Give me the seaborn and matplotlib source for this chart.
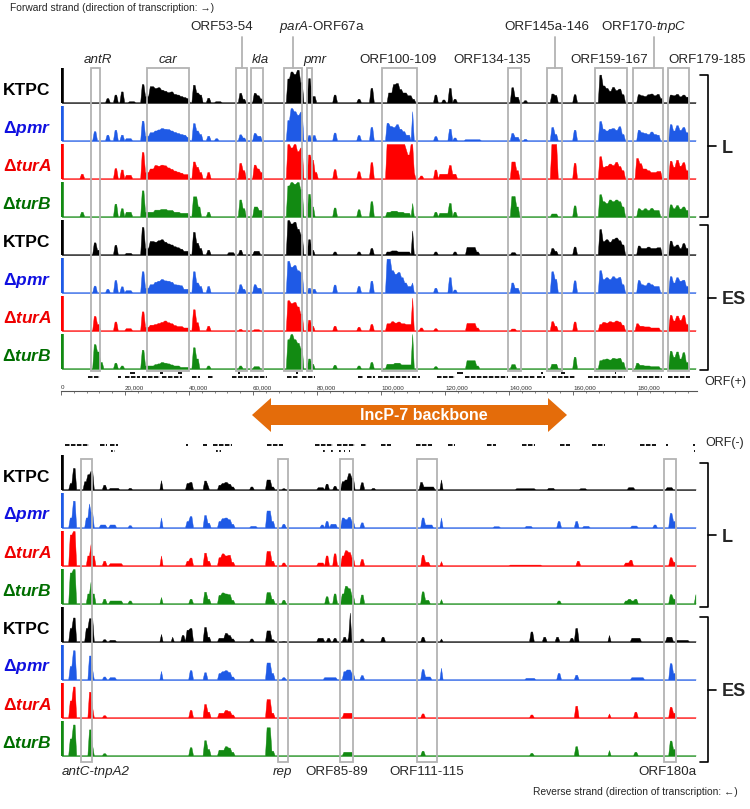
import numpy as np
import pandas as pd
import matplotlib
matplotlib.use('Agg')
import matplotlib.pyplot as plt
from matplotlib.patches import Rectangle, Polygon
import seaborn as sns

sns.set_theme(style='white')
plt.rcParams['font.family'] = ['Liberation Sans', 'DejaVu Sans']
plt.rcParams['mathtext.fontset'] = 'custom'
plt.rcParams['mathtext.rm'] = 'Liberation Sans'
plt.rcParams['mathtext.it'] = 'Liberation Sans:italic'
plt.rcParams['mathtext.bf'] = 'Liberation Sans:bold'
plt.rcParams['mathtext.bfit'] = 'Liberation Sans:italic:bold'

# ---------------- data (kb, coverage on a 0-10 track scale) ----------------
GENOME_KB = 198.75
background = 0.2

strain_labels = ['KTPC', 'Δ$\\mathbfit{pmr}$', 'Δ$\\mathbfit{turA}$', 'Δ$\\mathbfit{turB}$']
label_colors = ['#000000', '#1010e0', '#ee0000', '#006e00']
track_colors = ['#000000', '#1f5ae6', '#ff0000', '#128a12']
conditions = ['L', 'ES']

# forward strand, L
fwd_ktpc_L = [(14, 15, 1.4), (16.5, 17.5, 2.4), (18.5, 19.5, 3.3), (21, 23, 0.5), (25, 26, 5.4), (26, 27.5, 2.0),
              (27.5, 29, 4.8), (29, 30, 4.3), (30, 31, 4.5), (31, 32, 3.8), (32, 33, 3.5), (33, 34, 3.1), (34, 35, 3.3),
              (35, 36, 2.6), (36, 37, 2.4), (37, 38, 2.0), (38, 39, 1.7), (39, 40, 1.4), (41, 42, 5.2), (42, 43, 3.0),
              (43, 44, 2.4), (45.5, 46.5, 1.5), (48, 50, 0.5), (55.5, 56.5, 2.9), (56.5, 57.5, 1.2), (60, 61, 2.9),
              (61, 62, 2.2), (62, 63, 1.3), (70.5, 71.5, 7.0), (71.5, 72.5, 9.0), (72.5, 73.5, 8.3), (73.5, 74.5, 9.5),
              (74.5, 75.5, 6.0), (77, 78, 7.1), (78, 79.5, 2.0), (85, 86, 2.4), (92.5, 93.5, 1.2), (96.5, 97.5, 4.3),
              (102, 103.5, 3.0), (103.5, 104.5, 5.4), (104.5, 105.5, 5.7), (105.5, 106.5, 4.0), (106.5, 108, 3.0),
              (108, 109.5, 2.2), (109.5, 110.5, 1.2), (116.5, 117.5, 2.4), (119, 120, 1.0), (121, 122, 4.3),
              (122.5, 123.5, 1.2), (140.5, 141.5, 4.5), (141.5, 143, 1.8), (144.5, 145.5, 0.8), (153, 154, 2.7),
              (154, 155, 2.3), (160, 161, 2.5), (168, 169, 8.1), (169, 170, 5.0), (170, 171, 4.3), (171, 172, 3.5),
              (172, 173, 4.6), (173, 174, 3.7), (174, 175, 4.1), (175, 176, 2.5), (180, 181, 2.5), (181, 182, 2.2),
              (182, 183, 2.0), (183, 184, 2.5), (184, 185, 2.7), (185, 186, 2.2), (186, 187, 2.6), (187, 188, 1.4),
              (190, 191, 2.4), (191, 192, 2.2), (192, 193, 2.6), (193, 194, 1.9), (194, 195, 2.4), (195, 196, 1.8)]
fwd_pmr_L = [(10, 11, 2.8), (14, 15, 1.8), (16.5, 17.5, 3.2), (18.5, 19.5, 1.8), (20, 22, 0.8), (25, 26, 5.8),
             (26, 27.5, 1.5), (27.5, 29, 2.5), (29, 30, 3.0), (30, 31, 3.3), (31, 32, 3.7), (32, 33, 3.5), (33, 34, 3.4),
             (34, 35, 3.0), (35, 36, 2.6), (36, 37, 2.3), (37, 38, 2.0), (38, 39, 1.8), (39, 40, 1.2), (41, 42, 5.1),
             (42, 43, 3.0), (43, 44, 2.0), (45.5, 46.5, 1.5), (48, 49, 0.8), (55.5, 56.5, 1.9), (56.5, 57.5, 1.0),
             (60, 61, 2.3), (61, 62.5, 1.5), (70.5, 71.5, 6.0), (71.5, 72.5, 9.4), (72.5, 73.5, 8.5), (73.5, 74.5, 7.5),
             (74.5, 75.3, 8.4), (77, 78, 1.7), (78.5, 79.5, 1.7), (85, 86, 2.4), (92.5, 93.5, 1.7), (96.5, 97.5, 4.0),
             (101.5, 102.5, 5.2), (102.5, 103.5, 4.3), (103.5, 104.5, 4.0), (104.5, 105.5, 4.8), (105.5, 106.5, 3.5),
             (106.5, 107.5, 2.8), (107.5, 109, 1.8), (109.3, 110, 8.5), (116.5, 117.5, 1.4), (121, 122, 3.5),
             (122.5, 123.5, 1.0), (126, 131, 0.5), (140.5, 141.5, 2.3), (141.5, 143, 1.2), (144.5, 145.5, 0.6),
             (153, 154, 4.0), (154, 155, 2.0), (160, 161, 3.2), (168, 169, 5.7), (169, 170, 3.5), (170, 171, 3.0),
             (171, 172, 3.5), (172, 173, 3.7), (173, 174, 3.2), (174, 175, 4.2), (175, 176, 2.0), (180, 181, 3.2),
             (181, 182, 2.5), (182, 183, 2.3), (183, 184, 2.0), (184, 185, 2.7), (185, 186, 2.0), (186, 187, 1.8),
             (190, 191, 4.8), (191, 192, 3.0), (192, 193, 4.5), (193, 194, 3.2), (194, 195, 4.0), (195, 196, 2.5)]
fwd_turA_L = [(6, 7, 1.5), (16.5, 17.5, 3.1), (18.5, 19.5, 2.7), (20, 22, 1.2), (25, 26, 7.7), (26, 27.5, 2.0),
              (27.5, 29, 3.0), (29, 30, 4.0), (30, 31, 3.8), (31, 32, 4.1), (32, 33, 3.9), (33, 34, 3.3), (34, 35, 2.9),
              (35, 36, 2.4), (36, 37, 2.1), (37, 38, 1.8), (38, 40, 1.4), (41, 42, 5.0), (42, 43, 3.5), (43, 44, 2.0),
              (45.5, 46.5, 2.0), (55.5, 56.5, 4.6), (56.5, 57.5, 2.5), (60, 61, 4.1), (61, 62, 3.0), (62, 63, 2.0),
              (70.5, 71.5, 10), (71.5, 72.5, 9.0), (72.5, 73.5, 10), (73.5, 74.5, 8.0), (74.5, 75.3, 9.0),
              (77, 78, 7.0), (78, 79, 5.5), (79, 80, 2.0), (85, 86, 2.8), (92.5, 93.5, 2.2), (96.5, 97.5, 4.8),
              (101.5, 107.5, 10), (107.5, 108, 8.5), (108, 108.8, 7.0), (108.8, 109.8, 10), (109.8, 110.5, 2.0),
              (112, 113, 1.0), (116.5, 117.5, 2.7), (118, 121, 1.5), (121, 122, 4.0), (122, 123.5, 1.5),
              (140.5, 141.8, 5.0), (141.8, 143, 2.5), (153, 155.2, 10), (160, 161, 4.6), (168, 169, 6.5),
              (169, 170, 3.5), (170, 171, 3.8), (171, 172, 4.4), (172, 173, 4.0), (173, 174, 4.9), (174, 175, 3.7),
              (175, 176, 2.5), (179.5, 180.5, 6.0), (180.5, 181.5, 4.5), (181.5, 183, 3.0), (183, 184, 2.5),
              (184, 186, 2.0), (186, 187.5, 2.3), (190, 191, 5.2), (191, 192, 3.5), (192, 193, 5.5), (193, 194, 3.8),
              (194, 195, 4.8), (195, 196, 2.5)]
fwd_turB_L = [(6, 7, 1.5), (16.5, 17.5, 3.8), (18.5, 19.5, 2.5), (20, 22, 1.5), (25, 26, 7.6), (26, 27.5, 1.5),
              (27.5, 29, 1.5), (29, 31, 2.1), (31, 33, 2.3), (33, 35, 2.0), (35, 37, 1.5), (37, 40, 1.2),
              (41, 42.5, 5.9), (42.5, 43.5, 3.0), (45.5, 46.5, 1.5), (55.5, 56.5, 5.0), (56.5, 57.5, 2.5),
              (60, 61.5, 3.0), (61.5, 63, 2.0), (70.5, 71.5, 9.0), (71.5, 72.5, 10), (72.5, 73.5, 9.5),
              (73.5, 74.5, 10), (74.5, 75.3, 8.0), (77, 78, 6.6), (78, 79, 3.0), (85, 86, 2.7), (92.5, 93.5, 2.2),
              (96.5, 97.5, 4.5), (101.5, 103, 1.5), (103, 105, 1.8), (105, 107, 1.5), (107, 109, 1.2), (109.3, 110, 4.0),
              (116.5, 117.5, 1.5), (118, 121, 1.2), (121, 122, 4.0), (122.5, 123.5, 1.5), (140.5, 141.8, 6.0),
              (141.8, 143, 3.0), (153, 155, 1.0), (160, 161, 3.3), (168, 169, 6.5), (169, 170, 4.5), (170, 171, 4.0),
              (171, 172, 5.0), (172, 173, 4.5), (173, 174, 5.0), (174, 175, 4.5), (175, 176, 3.0), (180, 181, 2.5),
              (181, 182, 2.0), (182, 183, 2.5), (183, 184, 2.0), (184, 185, 2.6), (185, 187, 2.0), (190, 191, 3.6),
              (191, 192, 2.5), (192, 193, 3.4), (193, 194, 2.4), (194, 195, 3.0), (195, 196, 2.0)]
# forward strand, ES
fwd_ktpc_ES = [(10, 11, 3.6), (11, 12, 1.5), (16.5, 17.5, 2.9), (20, 22, 0.6), (25, 26, 8.0), (26, 27.5, 2.0),
               (27.5, 29, 4.0), (29, 30, 3.8), (30, 31, 4.2), (31, 32, 4.5), (32, 33, 3.8), (33, 34, 3.3),
               (34, 35, 3.0), (35, 36, 2.5), (36, 37, 2.2), (37, 38, 1.8), (38, 40, 1.2), (41, 42, 6.6), (42, 43, 3.5),
               (43, 44, 2.0), (45.5, 46.5, 1.5), (52, 54, 0.8), (55.5, 56.5, 1.5), (60, 62, 1.2), (70.5, 71.5, 10),
               (71.5, 72.5, 9.0), (72.5, 73.5, 9.5), (73.5, 74.5, 7.5), (74.5, 75.3, 6.0), (77, 78, 4.5),
               (78, 79, 1.5), (85, 86, 1.0), (92.5, 93.5, 1.0), (96.5, 97.5, 2.0), (101.5, 109, 1.0),
               (103, 105, 1.3), (109.3, 110, 7.0), (116.5, 117.5, 1.0), (122.5, 123.5, 1.0), (126.5, 129.5, 2.3),
               (129.5, 130.5, 1.0), (140.5, 142, 0.8), (153, 154, 2.0), (154, 155, 1.2), (160, 161, 2.4),
               (168, 169, 7.4), (169, 170, 4.0), (170, 171, 4.5), (171, 172, 3.8), (172, 173, 4.6), (173, 174, 5.0),
               (174, 175, 4.2), (175, 176, 3.0), (180, 181, 2.7), (181, 183, 2.0), (183, 184, 2.4), (184, 186, 2.0),
               (186, 187.5, 2.2), (190, 191, 4.1), (191, 192, 2.5), (192, 193, 3.0), (193, 194, 2.0),
               (194, 195, 3.4), (195, 196, 2.0)]
fwd_pmr_ES = [(10, 11, 2.1), (14, 15, 1.2), (16.5, 17.5, 3.7), (18.5, 19.5, 1.9), (20, 22, 0.8), (25, 26, 6.2),
              (26, 27.5, 1.5), (27.5, 29, 2.5), (29, 30, 3.2), (30, 31, 3.5), (31, 32, 4.0), (32, 33, 3.6),
              (33, 34, 3.5), (34, 35, 3.2), (35, 36, 2.5), (36, 37, 2.4), (37, 38, 2.2), (38, 40, 1.2), (41, 42, 6.2),
              (42, 43, 3.0), (43, 44, 2.0), (45.5, 46.5, 2.0), (55.5, 56.5, 2.5), (56.5, 57.5, 1.2), (60, 61, 2.5),
              (61, 62.5, 1.5), (70.5, 71.5, 9.2), (71.5, 72.5, 7.5), (72.5, 73.5, 8.0), (73.5, 74.5, 6.5),
              (74.5, 75.3, 6.0), (77, 78, 1.5), (78.5, 79.5, 1.2), (85, 86, 2.4), (92.5, 93.5, 2.0), (96.5, 97.5, 3.5),
              (101.5, 102.8, 9.8), (102.8, 103.8, 6.5), (103.8, 104.8, 5.5), (104.8, 105.8, 6.0),
              (105.8, 106.8, 4.5), (106.8, 108, 3.0), (108, 109.3, 2.0), (109.3, 110, 3.0), (116.5, 117.5, 1.5),
              (121, 122, 4.5), (122.5, 123.5, 1.0), (140.5, 141.5, 3.0), (141.5, 143, 1.5), (153, 154, 6.2),
              (154, 155, 4.0), (160, 161, 3.6), (168, 169, 6.5), (169, 170, 4.0), (170, 171, 4.5), (171, 172, 4.0),
              (172, 173, 4.8), (173, 174, 4.2), (174, 175, 4.6), (175, 176, 2.5), (180, 181, 3.7), (181, 182, 2.5),
              (182, 183, 2.2), (183, 184, 3.0), (184, 185, 2.5), (185, 187, 2.0), (190, 191, 4.8), (191, 192, 3.0),
              (192, 193, 4.5), (193, 194, 3.5), (194, 195, 3.8), (195, 196, 2.0)]
fwd_turA_ES = [(10, 11, 4.3), (11, 12, 2.0), (16.5, 17.5, 2.7), (20, 22, 0.8), (25, 26, 5.6), (26, 27.5, 1.2),
               (27.5, 29, 1.8), (29, 30, 2.0), (30, 31, 2.3), (31, 32, 2.6), (32, 33, 3.0), (33, 34, 2.5),
               (34, 35, 2.2), (35, 36, 1.7), (36, 38, 1.4), (38, 40, 1.0), (41, 42, 6.2), (42, 43, 2.5),
               (45.5, 46.5, 1.5), (55.5, 56.5, 0.6), (60, 62, 0.5), (70.5, 71.5, 8.8), (71.5, 72.5, 8.0),
               (72.5, 73.5, 8.3), (73.5, 74.5, 7.0), (74.5, 75.3, 5.0), (77, 78, 3.2), (78, 79, 1.5), (85, 86, 1.5),
               (92.5, 93.5, 1.2), (96.5, 97.5, 2.0), (101.5, 103, 2.2), (103, 104, 2.8), (104, 105, 2.4),
               (105, 106, 2.7), (106, 107.5, 2.2), (107.5, 109.3, 2.0), (109.3, 110, 9.5), (112, 113, 1.0),
               (116.5, 117.5, 0.8), (126.5, 129.5, 2.3), (129.5, 130.5, 1.0), (140.5, 142, 0.7), (153, 154, 2.8),
               (154, 155, 1.5), (160, 161, 2.7), (168, 169, 2.0), (169, 170, 2.6), (170, 171, 2.4), (171, 172, 2.8),
               (172, 173, 2.6), (173, 174, 3.0), (174, 175, 2.7), (175, 176, 1.8), (179.5, 180.5, 2.2),
               (180.5, 182, 1.5), (182, 184, 1.3), (184, 187, 1.0), (190, 191, 4.6), (191, 192, 3.0),
               (192, 193, 4.4), (193, 194, 3.2), (194, 195, 4.6), (195, 196, 2.0)]
fwd_turB_ES = [(10, 11, 7.1), (11, 12, 5.0), (12, 13, 2.0), (16.5, 17.5, 1.8), (18.5, 19.5, 1.0), (25, 26, 5.5),
               (26, 27.5, 1.0), (27.5, 29, 1.0), (29, 30, 1.4), (30, 31, 1.6), (31, 32, 2.0), (32, 33, 1.8),
               (33, 34, 1.6), (34, 35, 1.3), (35, 37, 1.0), (37, 40, 0.6), (41, 42, 6.2), (42, 43, 3.0),
               (45.5, 46.5, 1.0), (55.5, 56.5, 1.0), (60, 62, 0.8), (70.5, 71.5, 8.5), (71.5, 72.5, 10),
               (72.5, 73.5, 8.5), (73.5, 74.5, 7.5), (74.5, 75.3, 6.0), (77, 78, 3.0), (78, 79, 1.5), (85, 86, 1.2),
               (92.5, 93.5, 1.0), (96.5, 97.5, 2.0), (101.5, 104, 1.5), (104, 106, 1.8), (106, 109.3, 1.3),
               (109.3, 110, 10), (116.5, 117.5, 0.8), (126.5, 129.5, 2.5), (129.5, 130.5, 1.0), (140.5, 142, 1.4),
               (153, 155, 1.5), (160, 161, 3.5), (168, 169, 2.5), (169, 170, 2.8), (170, 171, 3.0), (171, 172, 2.7),
               (172, 173, 3.2), (173, 174, 3.0), (174, 175, 3.2), (175, 176, 2.0), (179.5, 180.5, 1.8),
               (180.5, 182, 1.2), (182, 184, 1.0), (184, 187, 0.8), (190, 191, 5.2), (191, 192, 3.5),
               (192, 193, 5.0), (193, 194, 3.0), (194, 195, 4.8), (195, 196, 2.0)]

# reverse strand, L
rev_ktpc_L = [(2.5, 3.5, 2.0), (3.5, 4.5, 6.3), (7, 8, 2.5), (8, 9, 4.5), (9, 9.8, 5.5), (13, 14, 1.5), (15, 18, 0.6),
              (21, 22, 0.6), (31, 31.7, 2.8), (39, 40, 2.0), (40, 41, 2.3), (44.5, 45.5, 2.7), (45.5, 46, 1.5),
              (49, 50, 1.5), (50, 51, 2.0), (51, 52, 2.3), (52, 53, 1.8), (53, 54, 1.0), (59, 60, 1.0),
              (64, 65.3, 3.0), (65.3, 66.5, 1.0), (69, 70, 0.5), (80, 82, 0.8), (82.5, 83.5, 1.8), (85, 86, 1.2),
              (87.5, 88.5, 2.5), (88.5, 89.5, 3.0), (89.5, 90.5, 4.8), (90.5, 91.3, 3.5), (93.5, 94.5, 2.2),
              (97, 98, 0.6), (112.2, 113.2, 2.3), (113.2, 116.5, 1.0), (118.5, 119.2, 3.0), (142, 148, 0.5),
              (152, 154, 0.6), (162, 164, 0.5), (177, 179, 0.8), (189, 191, 0.8)]
rev_pmr_L = [(2.5, 3.5, 3.0), (3.5, 4.5, 7.8), (7.5, 8.5, 3.0), (8.5, 9.2, 7.0), (9.2, 10, 4.5), (12, 14, 1.0),
             (15, 17, 1.0), (21, 22, 0.8), (31, 31.7, 3.0), (39, 40, 2.0), (40, 41, 3.4), (44.5, 45.5, 3.7),
             (45.5, 46.5, 1.5), (49, 50, 2.0), (50, 51, 2.8), (51, 52, 3.0), (52, 53, 2.5), (53, 54, 1.2),
             (59, 61, 0.6), (64, 65.3, 5.0), (65.3, 66.5, 2.0), (69, 70, 1.2), (81, 82, 1.0), (82.5, 83.5, 2.0),
             (84, 86, 1.2), (87.5, 88.5, 3.0), (88.5, 89.5, 2.5), (89.5, 90.5, 3.2), (90.5, 91.3, 2.0),
             (93.5, 94.5, 1.6), (112.5, 113.7, 3.0), (113.7, 116, 1.0), (118.5, 119.2, 3.0), (135, 137, 0.5),
             (145, 147, 0.6), (155, 155.8, 2.0), (160.5, 161.3, 2.0), (163, 165, 0.6), (178, 180, 0.7),
             (185, 186, 1.0), (190, 191, 4.3), (191, 192, 2.0)]
rev_turA_L = [(2.5, 3.5, 9.0), (3.5, 4.5, 10), (8, 9, 3.0), (9, 9.7, 6.3), (9.7, 10.3, 3.0), (13, 14, 1.5),
              (15, 19, 0.8), (31, 31.7, 3.0), (39, 40, 1.5), (40, 41, 2.4), (44.5, 45.5, 3.8), (45.5, 46.5, 1.5),
              (49, 50, 2.5), (50, 51, 3.6), (51, 52, 3.0), (52, 53, 3.2), (53, 54, 1.2), (64, 65.3, 4.3),
              (65.3, 66.5, 1.5), (69, 70, 1.0), (80, 82, 1.0), (82.5, 83.5, 3.0), (85, 86, 3.6), (87.5, 88.5, 3.0),
              (88.5, 89.5, 4.5), (89.5, 90.5, 4.0), (90.5, 91.3, 2.5), (93.5, 94.5, 2.0), (112.5, 113.7, 3.2),
              (113.7, 115, 1.2), (118.5, 119.2, 1.4), (140, 150, 0.4), (161, 162, 1.5), (176, 178, 1.0),
              (177.5, 178.3, 1.8), (190, 191, 2.5), (191, 192, 1.2)]
rev_turB_L = [(2.5, 3.5, 9.0), (3.5, 4.5, 10), (8, 9, 3.0), (9, 9.7, 6.4), (9.7, 10.3, 3.0), (13, 14, 1.5),
              (15, 19, 1.0), (21, 22, 1.0), (31, 31.7, 2.0), (40, 41, 1.5), (44.5, 45.5, 3.5), (45.5, 46.5, 1.5),
              (49, 50, 2.6), (50, 51, 3.3), (51, 52, 3.0), (52, 53, 2.8), (53, 54, 1.2), (64, 65.3, 3.4),
              (65.3, 66.5, 1.5), (69, 70, 1.2), (82.5, 83.5, 2.2), (85, 86, 3.0), (87.5, 88.5, 3.0),
              (88.5, 89.5, 5.2), (89.5, 90.5, 4.5), (90.5, 91.3, 2.5), (93.5, 94.5, 2.7), (112.5, 113.7, 3.6),
              (113.7, 115, 1.2), (118.5, 119.2, 1.4), (155, 156, 1.0), (176, 180, 1.0), (177, 178, 1.5),
              (179, 180, 1.5), (190, 191, 2.8), (191, 192, 1.5), (198, 198.7, 2.8)]
# reverse strand, ES
rev_ktpc_ES = [(2.5, 3.5, 4.0), (3.5, 4.5, 7.0), (7.5, 8.5, 4.0), (8.5, 9.8, 6.8), (13, 14, 0.8), (15, 17, 0.6),
               (31, 31.7, 2.3), (34.5, 35.2, 1.5), (37.5, 38.5, 2.0), (39, 40, 3.5), (40, 41, 4.0),
               (44.5, 45.5, 4.3), (45.5, 46.5, 1.5), (49, 51, 1.2), (51, 52, 2.6), (52, 53, 2.0), (53, 54, 1.0),
               (59, 60, 1.0), (64, 65.3, 3.3), (65.3, 66.5, 0.8), (69, 70, 0.3), (80, 82, 1.2), (83, 84, 1.2),
               (85, 86, 1.2), (88, 89, 1.5), (89.5, 90.5, 1.5), (90, 90.6, 8.4), (93.5, 94.5, 1.0),
               (100, 101, 1.5), (112.5, 113.7, 1.5), (118.5, 119.2, 1.0), (146.7, 147.5, 3.0), (150.5, 151.5, 1.5),
               (154.5, 155.5, 1.5), (159, 160, 1.2), (160.5, 161.3, 4.0), (171, 171.7, 2.0), (178, 181, 1.2),
               (189, 191, 1.5), (192, 196, 0.6)]
rev_pmr_ES = [(2.5, 3.5, 4.0), (3.5, 4.5, 8.5), (8.5, 9.5, 7.0), (9.5, 10, 3.0), (13, 14, 1.0), (15, 17, 0.8),
              (31, 31.7, 2.6), (40, 41, 2.8), (44.5, 45.5, 2.2), (49, 50, 2.0), (50, 51, 2.5), (51, 52, 2.8),
              (52, 53, 2.3), (53, 54, 1.0), (64, 65.3, 5.0), (65.3, 66.5, 2.0), (69, 70, 0.8), (82, 86, 0.8),
              (88, 89, 2.5), (89, 90.5, 3.0), (90.5, 91.3, 2.0), (93.5, 94.5, 1.4), (112.5, 113.7, 3.1),
              (113.7, 115.5, 1.0), (118.5, 119.2, 3.5), (145, 148, 0.6), (155, 155.8, 2.0), (160.5, 161.3, 1.5),
              (178, 182, 0.8), (190, 191, 4.8), (191, 192, 2.0)]
rev_turA_ES = [(2.5, 3.5, 5.0), (3.5, 4.5, 9.0), (8.5, 9.5, 7.5), (9.5, 10, 3.0), (13, 14, 0.8), (40, 41, 2.3),
               (44.5, 45.5, 4.0), (45.5, 46.5, 1.8), (49, 51, 1.5), (51, 52, 2.3), (52, 53, 2.0), (53, 54, 1.0),
               (64, 65.3, 5.4), (65.3, 66.5, 1.5), (88, 91, 1.5), (112.5, 113.7, 1.3), (146.7, 147.5, 1.0),
               (160.5, 161.3, 3.5), (171, 171.7, 1.3), (179, 180, 1.8), (190, 191, 3.2), (191, 192, 1.5)]
rev_turB_ES = [(2.5, 3.5, 5.0), (3.5, 4.5, 9.0), (8.5, 9.5, 7.6), (9.5, 10, 3.0), (13, 14, 0.8), (40, 41, 2.5),
               (44.5, 45.5, 4.5), (45.5, 46.5, 2.0), (49, 51, 1.8), (51, 52, 2.8), (52, 53, 2.4), (53, 54, 1.2),
               (64, 65.3, 8.2), (65.3, 66.5, 1.5), (88, 91, 1.2), (112.5, 113.7, 1.5), (146.7, 147.5, 0.9),
               (160.5, 161.3, 2.8), (171, 171.7, 1.7), (179, 180, 1.2), (190, 191, 4.4), (191, 192, 2.0)]

fwd_tracks = [fwd_ktpc_L, fwd_pmr_L, fwd_turA_L, fwd_turB_L, fwd_ktpc_ES, fwd_pmr_ES, fwd_turA_ES, fwd_turB_ES]
rev_tracks = [rev_ktpc_L, rev_pmr_L, rev_turA_L, rev_turB_L, rev_ktpc_ES, rev_pmr_ES, rev_turA_ES, rev_turB_ES]

# annotated regions (kb)
fwd_regions = ['antR', 'car', 'ORF53-54', 'kla', 'parA-ORF67a', 'pmr', 'ORF100-109', 'ORF134-135',
               'ORF145a-146', 'ORF159-167', 'ORF170-tnpC', 'ORF179-185']
fwd_region_start = [9.4, 26.9, 54.7, 59.4, 69.7, 76.9, 100.3, 139.7, 151.9, 166.9, 178.8, 189.7]
fwd_region_end = [12.2, 40.0, 58.1, 63.1, 75.3, 78.4, 111.3, 143.8, 156.6, 176.9, 188.1, 196.3]
rev_regions = ['antC-tnpA2', 'rep', 'ORF85-89', 'ORF111-115', 'ORF180a']
rev_region_start = [6.25, 67.8, 87.2, 111.1, 188.4]
rev_region_end = [9.7, 70.9, 91.3, 117.5, 192.2]

# ORFs (kb) on each strand: main row and offset row
orf_plus = [(8.5, 12.2), (17.9, 18.9), (20, 24.7), (25.2, 31), (31.5, 37.7), (40.8, 43.4), (46, 47.6), (53.3, 54.9),
            (55.4, 58), (58.5, 64.3), (70.5, 74.2), (75.2, 79.4), (92.9, 94.5), (95.6, 98.1), (99.2, 109),
            (109.6, 112.2), (117.4, 123.1), (126.2, 139.8), (140.8, 148.1), (148.6, 151.2), (153.3, 160.6),
            (164.8, 176.2), (179.9, 187.7), (189.8, 196.5)]
orf_plus_alt = [(21.6, 23.1), (31, 31.8), (36.7, 37.7), (55.4, 56), (73.5, 74), (123.6, 125.7), (150, 150.5),
                (156.4, 157.5), (173, 173.5)]
orf_minus = [(1.1, 8.6), (12.2, 14.3), (15.3, 17.9), (39, 39.6), (44.5, 45.5), (47.6, 53.3), (64.3, 69.5),
             (79.4, 85.1), (86.1, 91.9), (93.9, 95.5), (100, 103), (111, 116), (121, 123), (133, 136),
             (144, 148), (156, 159), (166, 170), (181, 186), (189.2, 189.7), (197.5, 198)]
orf_minus_alt = [(15.6, 16.9), (48.5, 50), (82, 82.4), (84.5, 84.9), (87, 87.4), (88.5, 88.9), (90, 90.4),
                 (197.7, 198)]

ruler_ticks = list(range(0, 180001, 20000))

# ---------------- layout (pixels) ----------------
W, H = 750, 809
X0, XW = 61, 636
TRACK_H = 35
top_base = [103, 141, 179, 217, 255, 293, 331, 369]
bot_base = [490, 528, 566, 604, 642, 680, 718, 756]


def kb(px):
    return (px - X0) / 3.2


edges = np.arange(0, 198.5 + 0.25, 0.5)
centers = edges[:-1] + 0.25


def coverage(segments):
    h = np.full(centers.size, background)
    for s, e, v in segments:
        m = (centers >= s) & (centers < e)
        h[m] = np.maximum(h[m], v)
    return pd.DataFrame({'kb': centers, 'cov': h})


fig = plt.figure(figsize=(W / 100, H / 100), dpi=100)

for bases, tracks in [(top_base, fwd_tracks), (bot_base, rev_tracks)]:
    for i, (yb, seg) in enumerate(zip(bases, tracks)):
        k = i % 4
        ax = fig.add_axes([X0 / W, (H - yb) / H, XW / W, TRACK_H / H])
        sns.histplot(data=coverage(seg), x='kb', weights='cov', bins=list(edges), element='poly', fill=True,
                     color=track_colors[k], edgecolor=track_colors[k], alpha=1, linewidth=0.3, ax=ax)
        ax.axhline(0.05, color=track_colors[k], lw=0.9)
        ax.plot([0.4, 0.4], [0, 10], color=track_colors[k], lw=2.6, solid_capstyle='butt')
        ax.set_xlim(0, GENOME_KB)
        ax.set_ylim(0, 10)
        ax.set_axis_off()

# genome ruler
axr = fig.add_axes([X0 / W, (H - 391) / H, XW / W, 0.5 / H])
axr.set_xlim(0, GENOME_KB * 1000)
axr.set_ylim(0, 1)
for sp in ['left', 'right', 'bottom']:
    axr.spines[sp].set_visible(False)
axr.spines['top'].set_color('#555555')
axr.spines['top'].set_linewidth(0.8)
axr.set_yticks([])
axr.xaxis.tick_top()
axr.set_xticks(ruler_ticks)
axr.set_xticklabels([f'{t:,}' for t in ruler_ticks], fontsize=4.5, color='#333333')
axr.set_xticks(np.arange(0, GENOME_KB * 1000, 4000), minor=True)
axr.tick_params(axis='x', which='major', length=3, width=0.6, pad=0.5, color='#555555', direction='in')
axr.tick_params(axis='x', which='minor', length=1.5, width=0.5, color='#555555', direction='in', top=True)
for lab in axr.get_xticklabels():
    lab.set_horizontalalignment('left')

# overlay for annotations: x in kb, y in pixels
ov = fig.add_axes([0, 0, 1, 1])
ov.set_xlim(kb(0), kb(W))
ov.set_ylim(H, 0)
ov.set_axis_off()
ov.patch.set_visible(False)

box_col = '#b3b3b3'
for s, e in zip(fwd_region_start, fwd_region_end):
    ov.add_patch(Rectangle((s, 68), e - s, 303, fill=False, edgecolor=box_col, lw=1.3))
for s, e in zip(rev_region_start, rev_region_end):
    ov.add_patch(Rectangle((s, 459), e - s, 303, fill=False, edgecolor=box_col, lw=1.3))

# leader lines for upper-row labels
for xl in [kb(242), kb(293), kb(555), kb(654)]:
    ov.plot([xl, xl], [68, 37], color=box_col, lw=1.3)

lab_fs = 9.6
upper = [('ORF53-54', 222, False), ('$\\mathit{parA}$-ORF67a', 322, False),
         ('ORF145a-146', 547, False), ('ORF170-$\\mathit{tnpC}$', 644, False)]
lower = [('antR', 98, True), ('car', 168, True), ('kla', 260, True), ('pmr', 315, True),
         ('ORF100-109', 398, False), ('ORF134-135', 492, False), ('ORF159-167', 609, False),
         ('ORF179-185', 707, False)]
for txt, xp, it in upper:
    ov.text(kb(xp), 27, txt, ha='center', va='center', fontsize=lab_fs)
for txt, xp, it in lower:
    ov.text(kb(xp), 60, txt, ha='center', va='center', fontsize=lab_fs, style='italic' if it else 'normal')
bottom_labels = [('antC-tnpA2', 95.5, True), ('rep', 282.5, True), ('ORF85-89', 336.5, False),
                 ('ORF111-115', 426.5, False), ('ORF180a', 667.5, False)]
for txt, xp, it in bottom_labels:
    ov.text(kb(xp), 772, txt, ha='center', va='center', fontsize=lab_fs, style='italic' if it else 'normal')

ov.text(kb(10), 8, 'Forward strand (direction of transcription: →)', ha='left', va='center', fontsize=7.4)
ov.text(kb(738), 792, 'Reverse strand (direction of transcription: ←)', ha='right', va='center', fontsize=7.4)
ov.text(kb(704), 382, 'ORF(+)', ha='left', va='center', fontsize=9)
ov.text(kb(705), 443, 'ORF(-)', ha='left', va='center', fontsize=9)

# ORF rows
for s, e in orf_plus:
    ov.plot([s, e], [377, 377], color='black', lw=1.3, dashes=(2.5, 0.8), solid_capstyle='butt')
for s, e in orf_plus_alt:
    ov.plot([s, e], [373, 373], color='black', lw=1.3, solid_capstyle='butt')
for s, e in orf_minus:
    ov.plot([s, e], [445, 445], color='black', lw=1.3, dashes=(2.5, 0.8), solid_capstyle='butt')
for s, e in orf_minus_alt:
    ov.plot([s, e], [451, 451], color='black', lw=1.3, dashes=(1, 1), solid_capstyle='butt')

# strain labels
for bases in [top_base, bot_base]:
    for i, yb in enumerate(bases):
        k = i % 4
        ov.text(kb(27), yb - 13, strain_labels[k], ha='center', va='center', fontsize=12.5,
                fontweight='bold', color=label_colors[k])

# brackets
bx = kb(708)
for y0, y1, cond in [(75, 217, 'L'), (225, 370, 'ES'), (463, 607, 'L'), (617, 762, 'ES')]:
    ym = (y0 + y1) / 2
    ov.plot([kb(700), bx, bx, kb(700)], [y0, y0, y1, y1], color='black', lw=1.2)
    ov.plot([bx, kb(716)], [ym, ym], color='black', lw=1.2)
    ov.text(kb(722), ym + 2, cond, ha='left', va='center', fontsize=13, fontweight='bold')

# IncP-7 backbone arrow
xl, xr, yc = kb(252), kb(567), 415
hl = kb(271) - kb(252)
arrow = [(xl, yc), (xl + hl, yc - 17), (xl + hl, yc - 10), (xr - hl, yc - 10), (xr - hl, yc - 17),
         (xr, yc), (xr - hl, yc + 17), (xr - hl, yc + 10), (xl + hl, yc + 10), (xl + hl, yc + 17)]
ov.add_patch(Polygon(arrow, closed=True, facecolor='#e46c0a', edgecolor='none'))
ov.text(kb(424), yc, 'IncP-7 backbone', ha='center', va='center', fontsize=11.5,
        fontweight='bold', color='white')

fig.savefig('out.png', dpi=100)
plt.close(fig)
